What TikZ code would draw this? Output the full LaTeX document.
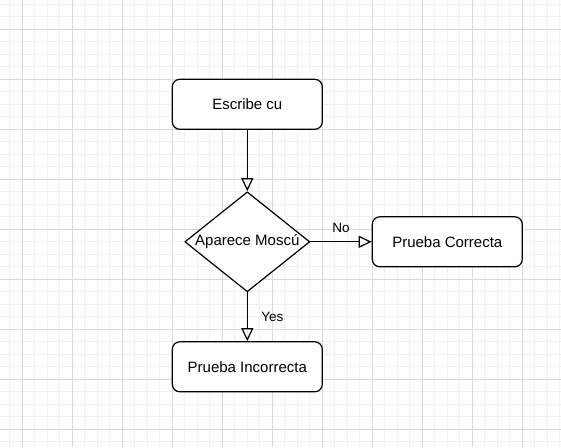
\documentclass[tikz,border=0pt]{standalone}
\usepackage{fontspec}
\setmainfont{Liberation Sans}
\usetikzlibrary{arrows.meta,shapes.geometric}
\begin{document}
\begin{tikzpicture}[x=1pt,y=-1pt,line join=round,font=\fontsize{15}{18}\selectfont,
	>={Triangle[open,length=13pt,width=12pt]},
	minor/.style={draw=black!6,line width=1pt},
	major/.style={draw=black!15,line width=1pt},
	procbox/.style={draw,line width=1.2pt,fill=white,rounded corners=7.5pt,minimum width=150pt,minimum height=50pt,inner sep=0pt},
	decbox/.style={draw,line width=1.2pt,fill=white,diamond,shape aspect=1.25,minimum width=125pt,minimum height=100pt,inner sep=0pt},
	flow/.style={->,line width=1.2pt},
	edgelbl/.style={font=\fontsize{13.5}{16}\selectfont}]
	\def \W{561}\def \H{447}
	\useasboundingbox (0,0) rectangle (\W,\H);
	% background grid
	\foreach \x in {9.8,22.3,...,561} \draw[minor] (\x,0)--(\x,\H);
	\foreach \y in {4.3,16.8,...,447} \draw[minor] (0,\y)--(\W,\y);
	\foreach \x in {22.3,72.3,...,561} \draw[major] (\x,0)--(\x,\H);
	\foreach \y in {29.3,79.3,...,447} \draw[major] (0,\y)--(\W,\y);
	% flowchart
	\node[procbox] (write) at (247.3,104.3) {Escribe cu};
	\node[decbox] (moscow) at (247.3,241.8) {Aparece Moscú};
	\node[procbox] (pass) at (447.3,241.8) {Prueba Correcta};
	\node[procbox] (fail) at (247.3,366.8) {Prueba Incorrecta};
	\draw[flow] (write)--(moscow);
	\draw[flow] (moscow)--node[edgelbl,shift=(270:13.5)]{No} (pass);
	\draw[flow] (moscow)--node[edgelbl,shift=(0:25)]{Yes} (fail);
\end{tikzpicture}
\end{document}
